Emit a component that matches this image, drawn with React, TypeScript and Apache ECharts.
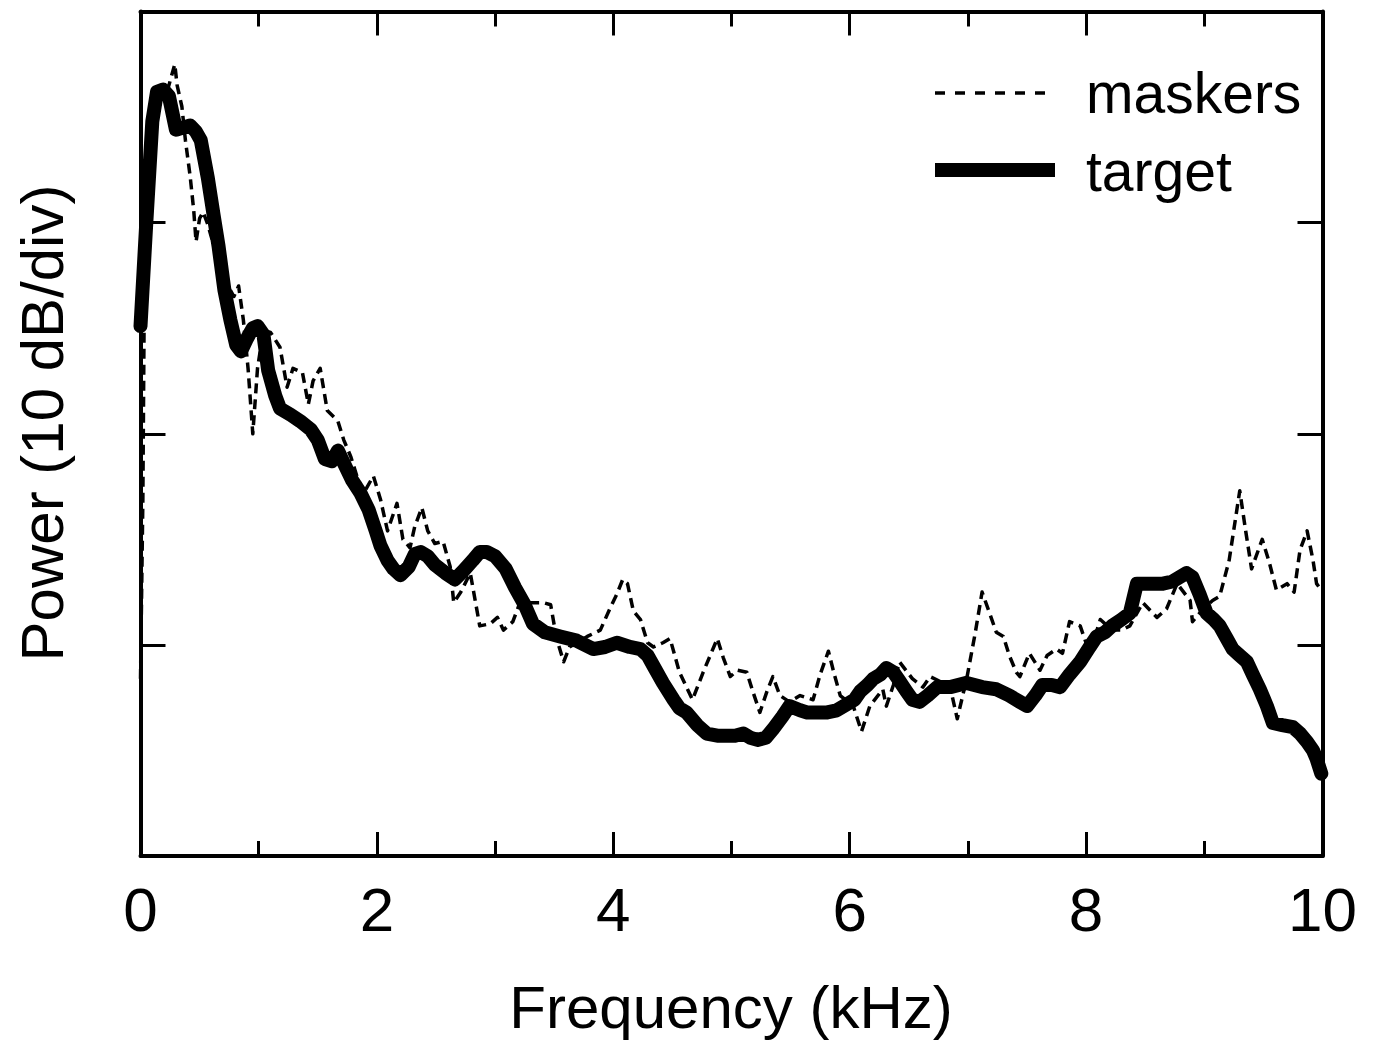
import React, { useEffect, useRef } from "react";
import * as echarts from "echarts";

// Frequency (kHz), power (dB, 10 dB per division; axis spans 4 divisions)
const xTickLabels = ["0", "2", "4", "6", "8", "10"];
const seriesNames = ["maskers", "target"];

const targetPoints: [number, number][] = [
  [0.00, 25.1], [0.05, 30.1], [0.10, 34.8], [0.14, 36.2], [0.19, 36.3], [0.24, 36.0], [0.30, 34.4],
  [0.36, 34.5], [0.42, 34.6], [0.47, 34.3], [0.51, 33.9], [0.57, 32.1], [0.62, 30.3], [0.66, 28.9],
  [0.71, 26.8], [0.76, 25.4], [0.81, 24.2], [0.85, 23.9], [0.90, 24.5], [0.95, 25.0], [0.99, 25.1],
  [1.04, 24.7], [1.08, 23.0], [1.14, 21.8], [1.18, 21.2], [1.27, 20.9], [1.35, 20.6], [1.44, 20.2],
  [1.50, 19.7], [1.56, 18.8], [1.62, 18.7], [1.67, 19.2], [1.73, 18.5], [1.79, 17.8], [1.86, 17.2],
  [1.93, 16.4], [1.99, 15.4], [2.03, 14.7], [2.09, 14.0], [2.14, 13.6], [2.20, 13.3], [2.27, 13.7],
  [2.32, 14.3], [2.37, 14.4], [2.43, 14.2], [2.49, 13.8], [2.58, 13.4], [2.66, 13.1], [2.73, 13.5],
  [2.81, 14.0], [2.87, 14.4], [2.93, 14.4], [3.00, 14.2], [3.09, 13.6], [3.17, 12.7], [3.25, 11.9],
  [3.32, 11.0], [3.42, 10.6], [3.55, 10.4], [3.69, 10.2], [3.83, 9.8], [3.93, 9.9], [4.03, 10.1],
  [4.14, 9.9], [4.23, 9.8], [4.29, 9.5], [4.34, 9.0], [4.42, 8.2], [4.51, 7.4], [4.56, 7.0],
  [4.62, 6.8], [4.71, 6.2], [4.79, 5.8], [4.88, 5.7], [4.96, 5.7], [5.03, 5.7], [5.10, 5.8],
  [5.16, 5.6], [5.22, 5.5], [5.29, 5.6], [5.35, 6.0], [5.43, 6.6], [5.49, 7.1], [5.58, 6.9],
  [5.64, 6.8], [5.72, 6.8], [5.81, 6.8], [5.89, 6.9], [5.98, 7.2], [6.04, 7.4], [6.09, 7.8],
  [6.15, 8.1], [6.20, 8.4], [6.26, 8.6], [6.31, 8.9], [6.37, 8.7], [6.42, 8.3], [6.48, 7.8],
  [6.53, 7.4], [6.59, 7.3], [6.66, 7.6], [6.74, 8.0], [6.85, 8.0], [6.99, 8.2], [7.12, 8.0],
  [7.24, 7.9], [7.35, 7.6], [7.44, 7.3], [7.50, 7.1], [7.57, 7.6], [7.63, 8.1], [7.71, 8.1],
  [7.78, 8.0], [7.86, 8.6], [7.95, 9.2], [8.03, 9.9], [8.09, 10.4], [8.16, 10.6], [8.22, 10.9],
  [8.30, 11.2], [8.37, 11.5], [8.40, 12.2], [8.43, 12.9], [8.50, 12.9], [8.56, 12.9], [8.65, 12.9],
  [8.73, 13.0], [8.79, 13.2], [8.85, 13.4], [8.90, 13.2], [8.96, 12.4], [9.02, 11.5], [9.08, 11.2],
  [9.13, 10.9], [9.19, 10.3], [9.24, 9.8], [9.30, 9.5], [9.36, 9.2], [9.41, 8.6], [9.47, 7.9],
  [9.53, 7.1], [9.58, 6.3], [9.66, 6.2], [9.75, 6.1], [9.81, 5.8], [9.87, 5.4], [9.92, 5.0],
  [9.95, 4.6], [9.99, 3.9],
];

const maskerPoints: [number, number][] = [
  [0.00, 8.4], [0.02, 16.9], [0.03, 24.9], [0.08, 30.6], [0.14, 35.3], [0.19, 36.2], [0.23, 36.3],
  [0.26, 36.9], [0.29, 37.5], [0.31, 36.5], [0.35, 35.5], [0.38, 33.9], [0.42, 32.2], [0.45, 30.6],
  [0.47, 29.1], [0.50, 30.2], [0.53, 30.5], [0.57, 29.9], [0.63, 28.7], [0.69, 27.7], [0.76, 26.8],
  [0.79, 26.5], [0.83, 27.0], [0.87, 25.4], [0.91, 23.1], [0.95, 20.0], [0.99, 23.1], [1.04, 24.9],
  [1.10, 24.8], [1.18, 24.1], [1.24, 22.2], [1.29, 23.1], [1.37, 22.9], [1.42, 21.4], [1.46, 22.5],
  [1.52, 23.1], [1.58, 21.1], [1.67, 20.6], [1.72, 19.7], [1.78, 18.9], [1.83, 18.0], [1.89, 17.2],
  [1.97, 18.0], [2.03, 16.9], [2.09, 15.4], [2.17, 16.7], [2.22, 15.0], [2.28, 14.6], [2.32, 15.6],
  [2.38, 16.5], [2.43, 15.4], [2.49, 14.8], [2.56, 14.9], [2.62, 13.7], [2.65, 12.0], [2.71, 12.5],
  [2.79, 13.4], [2.87, 10.9], [2.96, 11.0], [3.02, 11.3], [3.07, 10.7], [3.15, 11.1], [3.21, 12.0],
  [3.30, 12.0], [3.41, 12.0], [3.47, 11.9], [3.52, 10.3], [3.58, 9.2], [3.63, 9.9], [3.78, 10.4],
  [3.89, 10.7], [3.97, 11.7], [4.03, 12.4], [4.08, 13.1], [4.12, 12.9], [4.17, 11.6], [4.23, 11.2],
  [4.29, 10.1], [4.34, 9.9], [4.42, 10.1], [4.48, 10.3], [4.56, 8.7], [4.67, 7.4], [4.76, 8.7],
  [4.82, 9.5], [4.88, 10.3], [4.93, 9.4], [4.99, 8.5], [5.05, 8.8], [5.13, 8.7], [5.18, 7.8],
  [5.24, 6.8], [5.30, 7.8], [5.35, 8.5], [5.41, 7.6], [5.49, 7.3], [5.58, 7.6], [5.69, 7.4],
  [5.75, 8.6], [5.82, 9.7], [5.87, 8.6], [5.92, 7.6], [6.03, 7.1], [6.10, 5.9], [6.17, 7.1],
  [6.28, 7.9], [6.31, 7.1], [6.37, 8.1], [6.42, 9.2], [6.53, 8.4], [6.62, 8.0], [6.68, 8.5],
  [6.79, 8.2], [6.85, 8.0], [6.91, 6.5], [6.99, 8.4], [7.06, 10.5], [7.12, 12.5], [7.19, 11.4],
  [7.24, 10.6], [7.30, 10.4], [7.35, 9.5], [7.41, 8.7], [7.44, 8.5], [7.52, 9.6], [7.61, 8.8],
  [7.67, 9.5], [7.75, 9.8], [7.80, 9.6], [7.86, 11.1], [7.95, 10.9], [8.03, 9.6], [8.12, 11.2],
  [8.22, 10.7], [8.30, 10.7], [8.37, 10.9], [8.48, 12.0], [8.60, 11.3], [8.68, 11.7], [8.77, 12.9],
  [8.88, 12.1], [8.90, 11.1], [8.99, 11.7], [9.07, 12.1], [9.13, 12.3], [9.21, 14.0], [9.30, 17.3],
  [9.35, 15.4], [9.40, 13.6], [9.49, 15.0], [9.55, 13.9], [9.61, 12.6], [9.70, 12.9], [9.76, 12.5],
  [9.81, 14.5], [9.87, 15.4], [9.92, 14.0], [9.95, 12.9], [9.99, 12.6],
];

const FONT = "'Liberation Sans', Arial, Helvetica, sans-serif";

export default function App() {
  const ref = useRef<HTMLDivElement>(null);

  useEffect(() => {
    if (!ref.current) return;
    const chart = echarts.init(ref.current, undefined, { renderer: "svg" });

    const frameLine = { show: true, onZero: false, lineStyle: { color: "#000", width: 4 } };
    const xTick = { show: true, inside: true, length: 24, lineStyle: { color: "#000", width: 3 } };
    const xMinor = { show: true, splitNumber: 2, length: 15, lineStyle: { color: "#000", width: 3 } };
    const yTick = { show: true, inside: true, length: 25, lineStyle: { color: "#000", width: 3 } };

    chart.setOption({
      animation: false,
      backgroundColor: "#fff",
      grid: { left: 140.5, right: 55.5, top: 11.5, bottom: 186, containLabel: false },
      xAxis: [
        {
          type: "value",
          position: "bottom",
          min: 0,
          max: 10,
          interval: 2,
          axisLine: frameLine,
          axisTick: xTick,
          minorTick: xMinor,
          splitLine: { show: false },
          axisLabel: {
            show: true,
            margin: 22,
            fontSize: 62,
            fontFamily: FONT,
            color: "#000",
            formatter: (v: number) => xTickLabels[Math.round(v / 2)] ?? "",
          },
        },
        {
          type: "value",
          position: "top",
          min: 0,
          max: 10,
          interval: 2,
          axisLine: frameLine,
          axisTick: xTick,
          minorTick: xMinor,
          splitLine: { show: false },
          axisLabel: { show: false },
        },
      ],
      yAxis: [
        {
          type: "value",
          position: "left",
          min: 0,
          max: 40,
          interval: 10,
          axisLine: frameLine,
          axisTick: yTick,
          splitLine: { show: false },
          axisLabel: { show: false },
        },
        {
          type: "value",
          position: "right",
          min: 0,
          max: 40,
          interval: 10,
          axisLine: frameLine,
          axisTick: yTick,
          splitLine: { show: false },
          axisLabel: { show: false },
        },
      ],
      series: [
        {
          name: seriesNames[0],
          type: "line",
          xAxisIndex: 0,
          yAxisIndex: 0,
          data: maskerPoints,
          showSymbol: false,
          symbol: "none",
          lineStyle: { color: "#000", width: 3.5, type: [10, 6], join: "round" },
          z: 3,
        },
        {
          name: seriesNames[1],
          type: "line",
          xAxisIndex: 0,
          yAxisIndex: 0,
          data: targetPoints,
          showSymbol: false,
          symbol: "none",
          lineStyle: { color: "#000", width: 14, join: "round", cap: "round" },
          z: 2,
        },
      ],
      graphic: [
        {
          type: "line",
          shape: { x1: 935, y1: 93, x2: 1055, y2: 93 },
          style: { stroke: "#000", lineWidth: 3.5, lineDash: [10, 10] },
        },
        {
          type: "text",
          x: 1086,
          y: 93,
          style: {
            text: seriesNames[0],
            fontSize: 57,
            fontFamily: FONT,
            fill: "#000",
            textAlign: "left",
            textVerticalAlign: "middle",
          },
        },
        {
          type: "line",
          shape: { x1: 935, y1: 170, x2: 1055, y2: 170 },
          style: { stroke: "#000", lineWidth: 14 },
        },
        {
          type: "text",
          x: 1086,
          y: 171,
          style: {
            text: seriesNames[1],
            fontSize: 57,
            fontFamily: FONT,
            fill: "#000",
            textAlign: "left",
            textVerticalAlign: "middle",
          },
        },
        {
          type: "text",
          x: 731,
          y: 1007,
          style: {
            text: "Frequency (kHz)",
            fontSize: 60,
            fontFamily: FONT,
            fill: "#000",
            textAlign: "center",
            textVerticalAlign: "middle",
          },
        },
        {
          type: "text",
          x: 42,
          y: 423,
          rotation: Math.PI / 2,
          style: {
            text: "Power (10 dB/div)",
            fontSize: 60,
            fontFamily: FONT,
            fill: "#000",
            textAlign: "center",
            textVerticalAlign: "middle",
          },
        },
      ],
    });

    return () => chart.dispose();
  }, []);

  return (
    <div
      ref={ref}
      style={{ position: "absolute", left: 0, top: 0, width: 1378, height: 1042, background: "#fff" }}
    />
  );
}
